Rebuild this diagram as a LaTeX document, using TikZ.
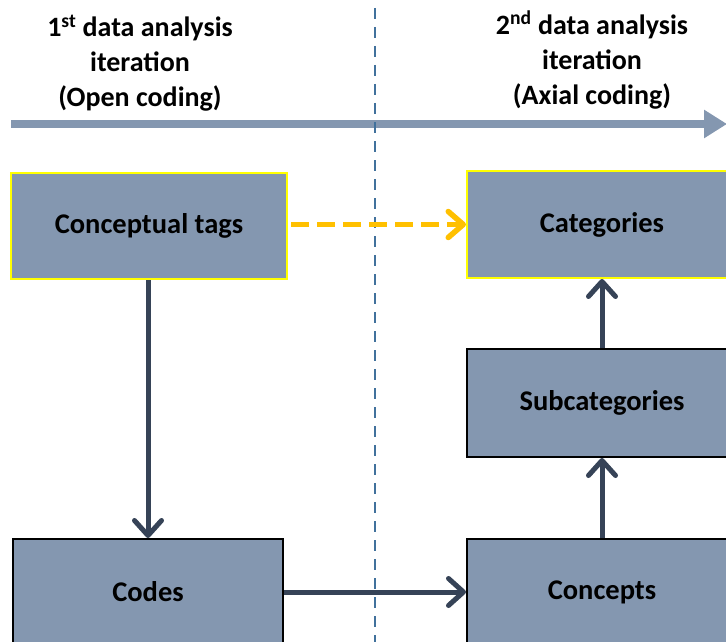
\documentclass[tikz,border=0pt]{standalone}
\usepackage{fontspec}
\setmainfont{Carlito}
\usetikzlibrary{arrows.meta}
\definecolor{boxfill}{HTML}{8497B0}
\definecolor{darkarrow}{HTML}{364357}
\definecolor{divider}{HTML}{41719C}
\definecolor{orangearr}{HTML}{FFC000}
\definecolor{hiyellow}{HTML}{FFFF00}
\tikzset{
  stage/.style={draw=black, line width=2pt, fill=boxfill, minimum width=270pt, minimum height=106pt, inner sep=0pt, font=\fontsize{28.5}{32}\selectfont\bfseries},
  highlighted/.style={draw=hiyellow},
  flow/.style={draw=darkarrow, line width=5pt, -{Straight Barb[length=15pt,width=27pt,line width=5pt,round]}},
  orangeflow/.style={draw=orangearr, line width=5.5pt, dash pattern=on 18pt off 8pt, -{Straight Barb[length=15pt,width=26pt,line width=5.5pt,round]}},
  heading/.style={align=center, font=\fontsize{28}{35}\selectfont\bfseries},
}
\begin{document}
\begin{tikzpicture}[x=1pt,y=-1pt]
\clip (0,0) rectangle (726,642);
\fill[white] (0,0) rectangle (726,642);
% headings
\node[heading] (h1) at (140,63) {1\textsuperscript{st} data analysis\\iteration\\(Open coding)};
\node[heading] (h2) at (592,60) {2\textsuperscript{nd} data analysis\\iteration\\(Axial coding)};
% timeline arrow
\coordinate (tstart) at (11,124);
\coordinate (tend) at (727,124);
\draw[boxfill, line width=8pt, -{Triangle[length=23pt,width=27pt]}] (tstart) -- (tend);
% divider
\coordinate (dtop) at (375,8);
\coordinate (dbot) at (375,650);
\draw[divider, line width=2.5pt, dash pattern=on 11pt off 8pt] (dtop) -- (dbot);
% boxes
\node[stage, highlighted, minimum width=276pt] (tags) at (149,226) {Conceptual tags};
\node[stage, highlighted, minimum height=107pt] (cats) at (602,224.5) {Categories};
\node[stage, minimum height=108pt] (subcats) at (602,403) {Subcategories};
\node[stage] (concepts) at (602,592) {Concepts};
\node[stage] (codes) at (148,592) {Codes};
% connectors
\draw[flow] (tags.south -| codes.north) -- (codes.north);
\draw[flow] (codes.east) -- (concepts.west);
\draw[flow] (concepts.north) -- (subcats.south);
\draw[flow] (subcats.north) -- (cats.south);
\draw[orangeflow, shorten <=3pt] (tags.east |- cats.west) -- (cats.west);
\end{tikzpicture}
\end{document}
